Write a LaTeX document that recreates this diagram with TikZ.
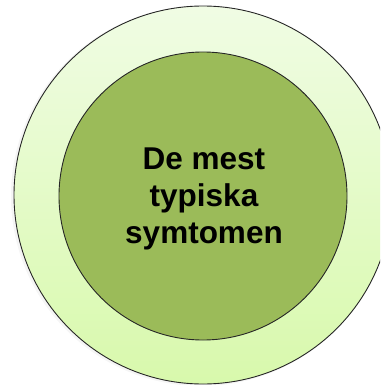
\documentclass[tikz,border=0pt]{standalone}
\usepackage{fontspec}
\setmainfont{Liberation Sans}
\begin{document}
\begin{tikzpicture}[x=1pt,y=-1pt,
  ring/.style={draw=black!85,line width=0.9pt},
  label/.style={align=center,font=\bfseries\fontsize{31.5}{37}\selectfont,text=black}]
\useasboundingbox (0,0) rectangle (380,385);
\begin{scope}
\clip (0,0) rectangle (380,385);
\shade[top color=black!8,bottom color=black!8,opacity=0.5] (201,196) circle[radius=190];
\path[ring,top color={rgb,255:red,240;green,252;blue,228},bottom color={rgb,255:red,216;green,249;blue,172}] (203,195) coordinate (c) circle[radius=189];
\path[ring,fill={rgb,255:red,155;green,187;blue,89}] (203,196) circle[radius=144];
\end{scope}
\node[label] (t) at (204,199) {De mest\\typiska\\symtomen};
\end{tikzpicture}
\end{document}
